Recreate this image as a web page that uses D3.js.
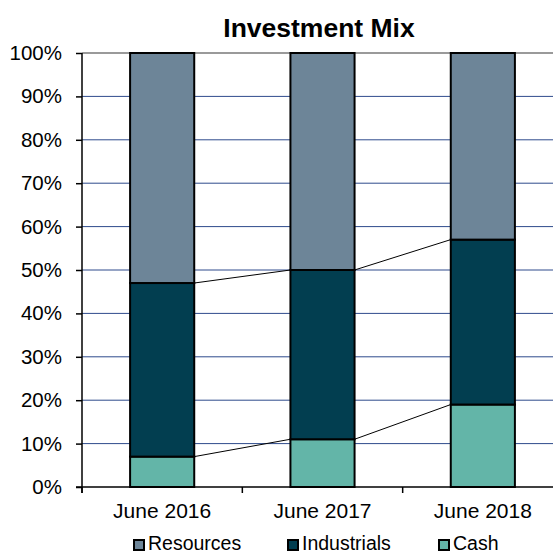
<!DOCTYPE html>
<html>
<head>
<meta charset="utf-8">
<script src="https://cdn.jsdelivr.net/npm/d3@7"></script>
<style>
  body { margin: 0; background: #fff; }
  text { font-family: "Liberation Sans", Arial, sans-serif; fill: #000; }
</style>
</head>
<body>
<div class="chart"></div>
<script>
// values (percent of mix)
const periods = ["June 2016", "June 2017", "June 2018"];
const cash = [7, 11, 19];
const industrials = [40, 39, 38];
const resources = [53, 50, 43];
const yTicks = [0, 10, 20, 30, 40, 50, 60, 70, 80, 90, 100];

const seriesNames = ["Cash", "Industrials", "Resources"];
const colors = { Cash: "#63b5a8", Industrials: "#023e50", Resources: "#6d8598" };
const legendOrder = ["Resources", "Industrials", "Cash"];

const width = 553, height = 555;
const plotLeft = 82, plotRight = 563, plotTop = 53, plotBottom = 487;

const rows = periods.map((p, i) => ({ period: p, Cash: cash[i], Industrials: industrials[i], Resources: resources[i] }));
const stacked = d3.stack().keys(seriesNames)(rows);

const x = d3.scaleBand().domain(periods).range([plotLeft, plotRight]).paddingInner(0.6).paddingOuter(0.3);
const y = d3.scaleLinear().domain([0, 100]).range([plotBottom, plotTop]);

const svg = d3.select(".chart").append("svg")
  .attr("width", width)
  .attr("height", height);

// gridlines
svg.append("g").selectAll("line")
  .data(yTicks.filter(d => d > 0 && d < 100))
  .join("line")
  .attr("x1", plotLeft).attr("x2", plotRight)
  .attr("y1", d => y(d)).attr("y2", d => y(d))
  .attr("stroke", "#2e4a8c")
  .attr("stroke-width", 1);

// top border of plot area
svg.append("line")
  .attr("x1", plotLeft).attr("x2", plotRight)
  .attr("y1", y(100)).attr("y2", y(100))
  .attr("stroke", "#9a9a9a")
  .attr("stroke-width", 2);

// connector lines between bars
stacked.slice(0, 2).forEach(s => {
  for (let i = 0; i < periods.length - 1; i++) {
    svg.append("line")
      .attr("x1", x(periods[i]) + x.bandwidth())
      .attr("y1", y(s[i][1]))
      .attr("x2", x(periods[i + 1]))
      .attr("y2", y(s[i + 1][1]))
      .attr("stroke", "#000")
      .attr("stroke-width", 1);
  }
});

// bars
svg.append("g").selectAll("g")
  .data(stacked)
  .join("g")
  .attr("fill", d => colors[d.key])
  .selectAll("rect")
  .data(d => d)
  .join("rect")
  .attr("x", d => x(d.data.period))
  .attr("width", x.bandwidth())
  .attr("y", d => y(d[1]))
  .attr("height", d => y(d[0]) - y(d[1]))
  .attr("stroke", "#000")
  .attr("stroke-width", 2);

// y axis
const yAxis = svg.append("g")
  .attr("transform", `translate(${plotLeft},0)`)
  .call(d3.axisLeft(y).tickValues(yTicks).tickFormat(d => d + "%").tickSize(6).tickPadding(14));
yAxis.select(".domain").attr("stroke", "#000").attr("stroke-width", 1.5).attr("d", `M0,${plotTop}V${plotBottom + 6}`);
yAxis.selectAll(".tick line").attr("stroke", "#000").attr("stroke-width", 1.5);
yAxis.selectAll("text").style("font-size", "20.5px").attr("fill", "#000");

// x axis
const xAxis = svg.append("g")
  .attr("transform", `translate(0,${plotBottom})`);
xAxis.append("line")
  .attr("x1", plotLeft - 6).attr("x2", plotRight)
  .attr("stroke", "#000").attr("stroke-width", 1.5);
xAxis.selectAll(".sep")
  .data(periods)
  .join("line")
  .attr("class", "sep")
  .attr("x1", d => x(d) - x.step() * x.paddingInner() / 2)
  .attr("x2", d => x(d) - x.step() * x.paddingInner() / 2)
  .attr("y1", 0).attr("y2", 6)
  .attr("stroke", "#000").attr("stroke-width", 1.5);
xAxis.selectAll(".lbl")
  .data(periods)
  .join("text")
  .attr("class", "lbl")
  .attr("x", d => x(d) + x.bandwidth() / 2)
  .attr("y", 31)
  .attr("text-anchor", "middle")
  .style("font-size", "21px")
  .text(d => d);

// title
svg.append("text")
  .attr("x", 319)
  .attr("y", 37)
  .attr("text-anchor", "middle")
  .style("font-size", "26.5px")
  .style("font-weight", "bold")
  .text("Investment Mix");

// legend
const legendX = [133, 287, 438];
const legend = svg.append("g").selectAll("g")
  .data(legendOrder)
  .join("g")
  .attr("transform", (d, i) => `translate(${legendX[i]},539)`);
legend.append("rect")
  .attr("x", 1).attr("y", 1)
  .attr("width", 10).attr("height", 10)
  .attr("fill", d => colors[d])
  .attr("stroke", "#000")
  .attr("stroke-width", 2);
legend.append("text")
  .attr("x", 15)
  .attr("y", 11)
  .style("font-size", "19.5px")
  .text(d => d);
</script>
</body>
</html>
